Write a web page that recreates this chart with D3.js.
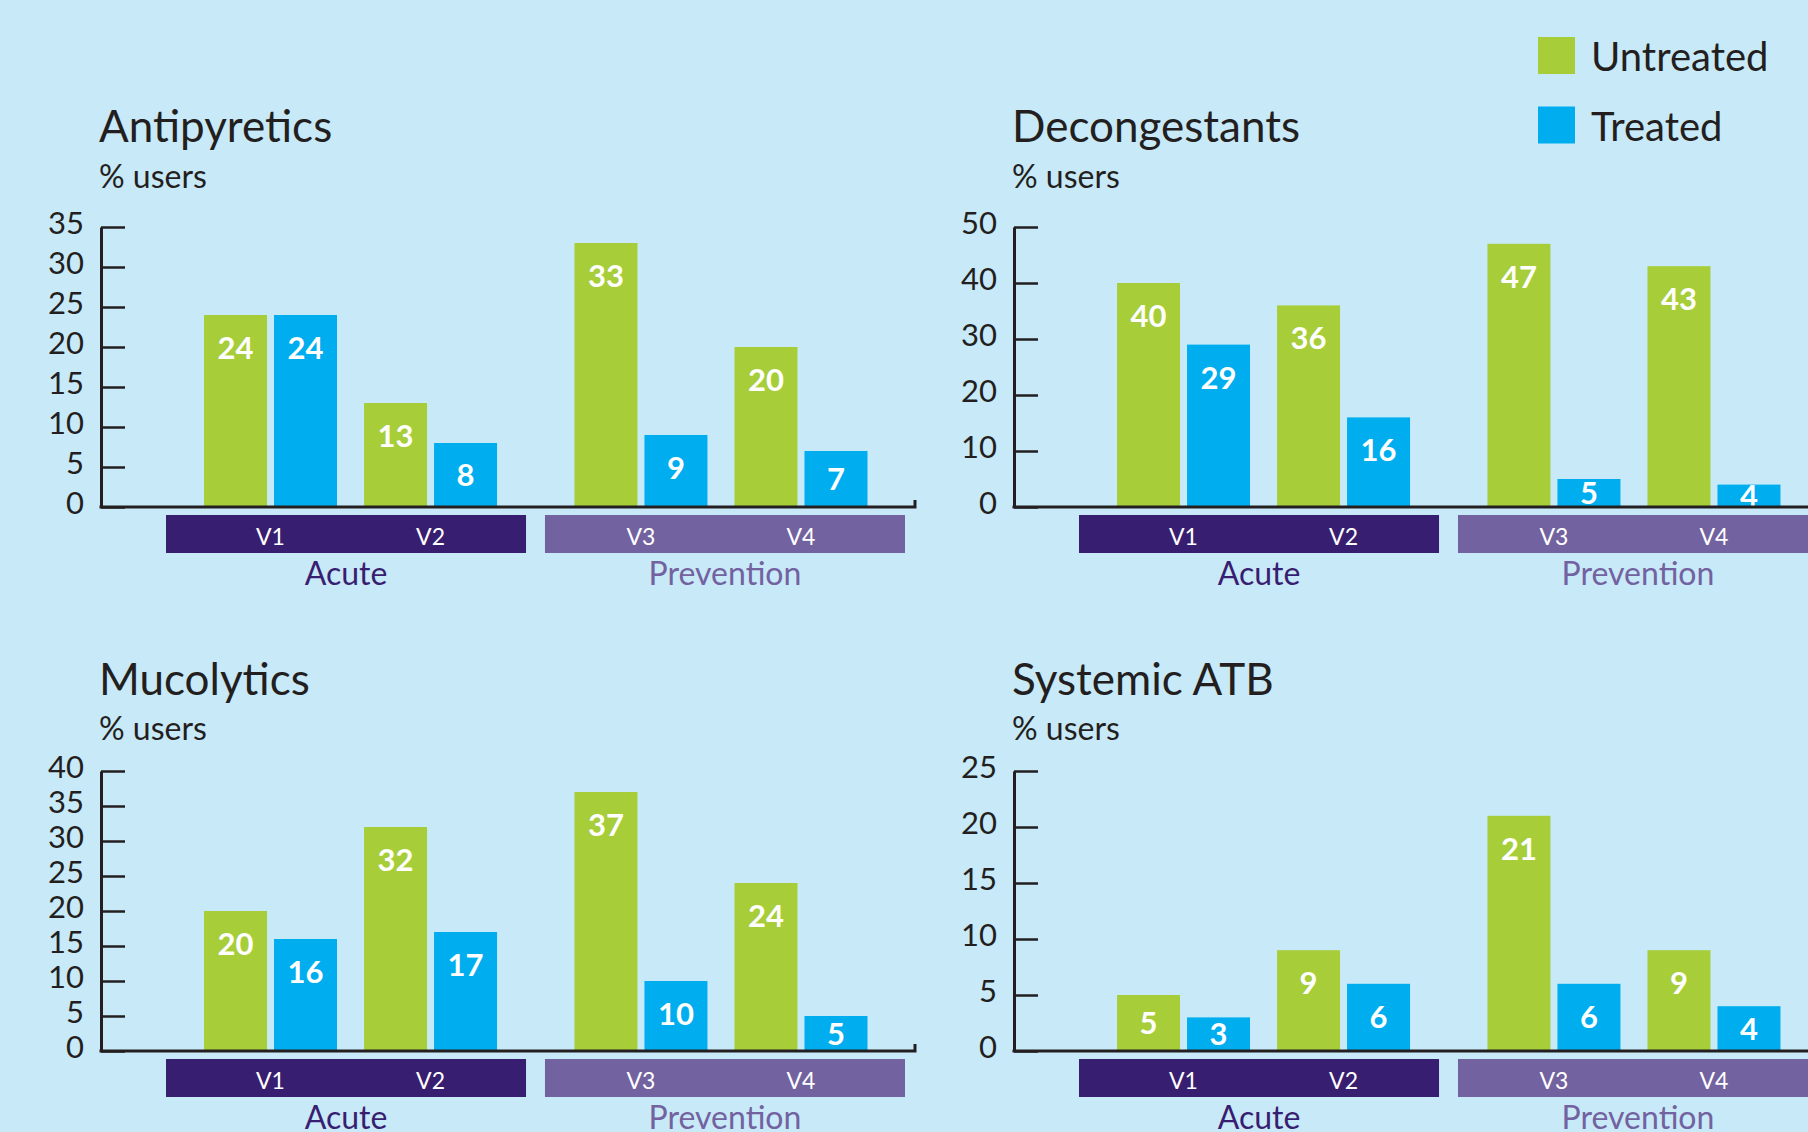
<!DOCTYPE html>
<html>
<head>
<meta charset="utf-8">
<script src="https://cdn.jsdelivr.net/npm/d3@7"></script>
<style>
  html, body { margin: 0; padding: 0; overflow: hidden; background: #c8e9f8; }
  text { font-family: Lato, 'Open Sans', sans-serif; }
</style>
</head>
<body>
<div id="chart"></div>
<script>
'use strict';

// data
const titles = ['Antipyretics', 'Decongestants', 'Mucolytics', 'Systemic ATB'];
const visits = ['V1', 'V2', 'V3', 'V4'];
const phases = ['Acute', 'Prevention'];
const phaseVisits = [['V1', 'V2'], ['V3', 'V4']];
const series = ['Untreated', 'Treated'];
const untreated = [[24, 13, 33, 20], [40, 36, 47, 43], [20, 32, 37, 24], [5, 9, 21, 9]];
const treated = [[24, 8, 9, 7], [29, 16, 5, 4], [16, 17, 10, 5], [3, 6, 6, 4]];
const yMax = [35, 50, 40, 25];
const yStep = [5, 10, 5, 5];

const colors = { Untreated: '#a7ce39', Treated: '#00aeef' };
const phaseColors = { Acute: '#381e70', Prevention: '#72629f' };
const ink = '#231f20';

const width = 1808, height = 1132;

const svg = d3.select('#chart')
    .append('svg')
    .attr('width', width)
    .attr('height', height);

svg.append('rect')
    .attr('width', width)
    .attr('height', height)
    .attr('fill', '#c8e9f8');

// panel layout (shared by all four small charts)
const origins = [[0, 0], [913, 0], [0, 544], [913, 544]];
const axisX = 101, axisEnd = 915, yTop = 227, yBottom = 507;

function drawPanel(p) {
    const [ox, oy] = origins[p];
    const g = svg.append('g').attr('transform', `translate(${ox},${oy})`);
    const row = p < 2 ? 0 : 1;

    g.append('text')
        .attr('x', 99)
        .attr('y', row ? 151 : 142)
        .attr('fill', ink)
        .style('font-size', '44px')
        .text(titles[p]);

    g.append('text')
        .attr('x', 99)
        .attr('y', row ? 196 : 188)
        .attr('fill', ink)
        .style('font-size', '32px')
        .text('% users');

    const y = d3.scaleLinear()
        .domain([0, yMax[p]])
        .range([yBottom, yTop]);

    // coloured phase bands below the axis
    const phaseX = d3.scaleBand()
        .domain(phases)
        .range([166, 905])
        .paddingInner(0.05);

    // bar groups sit a little tighter than the bands
    const groupX = d3.scaleBand()
        .domain(phases)
        .range([170.5, 901])
        .paddingInner(0.028);

    const visitX = d3.scaleBand()
        .domain([0, 1])
        .range([0, groupX.bandwidth()])
        .paddingInner(0)
        .paddingOuter(0.125);

    const visitCenter = v => {
        const pi = phaseVisits.findIndex(list => list.includes(v));
        const idx = phaseVisits[pi].indexOf(v);
        return groupX(phases[pi]) + visitX(idx) + visitX.bandwidth() / 2;
    };

    const seriesX = d3.scaleBand()
        .domain(series)
        .range([-66.5, 66.5])
        .paddingInner(0.1);

    const rows = [];
    visits.forEach((v, i) => {
        rows.push({ visit: v, key: 'Untreated', value: untreated[p][i] });
        rows.push({ visit: v, key: 'Treated', value: treated[p][i] });
    });

    // bars
    g.append('g')
        .selectAll('rect')
        .data(rows)
        .join('rect')
        .attr('x', d => visitCenter(d.visit) + seriesX(d.key))
        .attr('y', d => y(d.value))
        .attr('width', seriesX.bandwidth())
        .attr('height', d => y(0) - y(d.value))
        .attr('fill', d => colors[d.key]);

    // value labels inside bars
    g.append('g')
        .selectAll('text')
        .data(rows)
        .join('text')
        .attr('x', d => visitCenter(d.visit) + seriesX(d.key) + seriesX.bandwidth() / 2)
        .attr('y', d => Math.min(y(d.value) + 44, (y(d.value) + y(0)) / 2 + 11))
        .attr('text-anchor', 'middle')
        .attr('fill', 'white')
        .style('font-size', '31px')
        .style('font-weight', 'bold')
        .text(d => d.value);

    // y axis, ticks pointing inward
    const yAxis = g.append('g')
        .attr('transform', `translate(${axisX},0)`)
        .call(d3.axisLeft(y)
            .tickValues(d3.range(0, yMax[p] + 1, yStep[p]))
            .tickSizeInner(-24)
            .tickSizeOuter(0)
            .tickPadding(17));
    yAxis.select('.domain').attr('stroke', ink).attr('stroke-width', 3);
    yAxis.selectAll('.tick line').attr('stroke', ink).attr('stroke-width', 2.5);
    yAxis.selectAll('.tick text')
        .attr('fill', ink)
        .attr('dy', '0.2em')
        .style('font-size', '31px')
        .style('font-family', 'Lato, sans-serif');

    // x baseline with the small end tick
    g.append('path')
        .attr('d', `M${axisX - 1.5},${y(0)}H${axisEnd}V${y(0) - 7}`)
        .attr('fill', 'none')
        .attr('stroke', ink)
        .attr('stroke-width', 3);

    // phase bands with visit names
    g.append('g')
        .selectAll('rect')
        .data(phases)
        .join('rect')
        .attr('x', d => phaseX(d))
        .attr('y', 515)
        .attr('width', phaseX.bandwidth())
        .attr('height', 38)
        .attr('fill', d => phaseColors[d]);

    g.append('g')
        .selectAll('text')
        .data(visits)
        .join('text')
        .attr('x', d => visitCenter(d))
        .attr('y', 545)
        .attr('text-anchor', 'middle')
        .attr('fill', 'white')
        .style('font-size', '23px')
        .text(d => d);

    g.append('g')
        .selectAll('text')
        .data(phases)
        .join('text')
        .attr('x', d => phaseX(d) + phaseX.bandwidth() / 2)
        .attr('y', 585)
        .attr('text-anchor', 'middle')
        .attr('fill', d => phaseColors[d])
        .style('font-size', '32px')
        .text(d => d);
}

titles.forEach((t, p) => drawPanel(p));

// legend
const legend = svg.append('g')
    .selectAll('g')
    .data(series)
    .join('g')
    .attr('transform', (d, i) => `translate(1538,${37 + i * 69.5})`);

legend.append('rect')
    .attr('width', 37)
    .attr('height', 37)
    .attr('fill', d => colors[d]);

legend.append('text')
    .attr('x', 53)
    .attr('y', 34)
    .attr('fill', ink)
    .style('font-size', '40px')
    .text(d => d);
</script>
</body>
</html>
